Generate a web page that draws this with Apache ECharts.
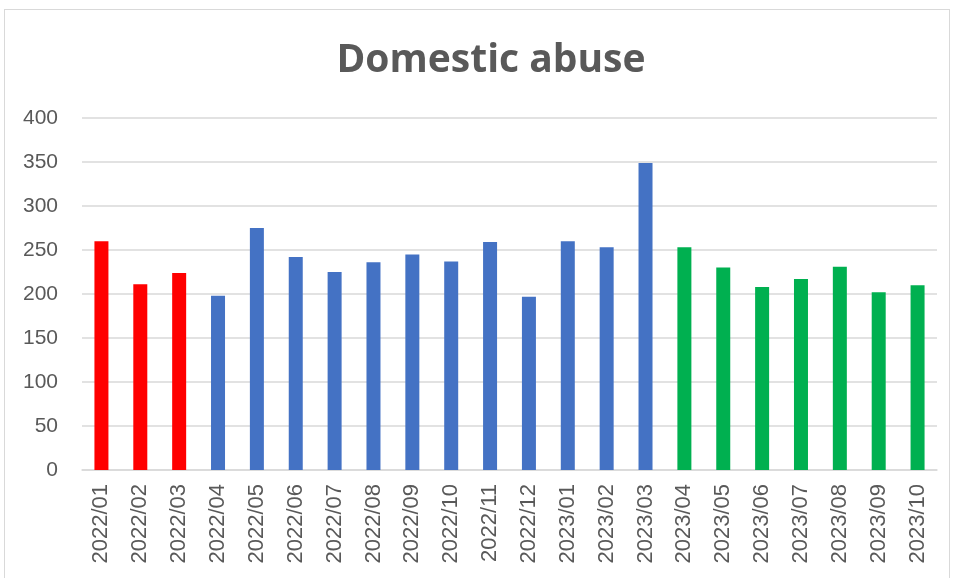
<!DOCTYPE html>
<html>
<head>
<meta charset="utf-8">
<script src="https://cdn.jsdelivr.net/npm/echarts@6/dist/echarts.min.js"></script>
<style>
html,body{margin:0;padding:0;background:#fff;}
#frame{position:absolute;left:4px;top:9px;width:946px;height:580px;border:1px solid #d9d9d9;box-sizing:border-box;}
#chart{position:absolute;left:0;top:0;width:957px;height:578px;}
</style>
</head>
<body>
<div id="frame"></div>
<div id="chart"></div>
<script>
const categories = ['2022/01','2022/02','2022/03','2022/04','2022/05','2022/06','2022/07','2022/08','2022/09','2022/10','2022/11','2022/12','2023/01','2023/02','2023/03','2023/04','2023/05','2023/06','2023/07','2023/08','2023/09','2023/10'];
const values = [260, 211, 224, 198, 275, 242, 225, 236, 245, 237, 259, 197, 260, 253, 349, 253, 230, 208, 217, 231, 202, 210];
const groups = ['red','red','red','blue','blue','blue','blue','blue','blue','blue','blue','blue','blue','blue','blue','green','green','green','green','green','green','green'];
const yTicks = [0, 50, 100, 150, 200, 250, 300, 350, 400];

const groupColors = {red: '#FF0000', blue: '#4472C4', green: '#00B050'};

const chart = echarts.init(document.getElementById('chart'));
chart.setOption({
  animation: false,
  title: {
    text: 'Domestic abuse',
    left: 486,
    textAlign: 'center',
    top: 36,
    textStyle: {fontFamily: 'Open Sans', fontWeight: 'bold', fontSize: 39, color: '#595959'}
  },
  grid: {left: 82, right: 20, top: 118, bottom: 108, containLabel: false},
  xAxis: {
    type: 'category',
    data: categories,
    axisLine: {lineStyle: {color: '#d9d9d9', width: 1.5}},
    axisTick: {show: false},
    axisLabel: {rotate: 90, color: '#595959', fontSize: 22, fontFamily: 'Liberation Sans', margin: 14, interval: 0}
  },
  yAxis: {
    type: 'value',
    min: yTicks[0],
    max: yTicks[yTicks.length - 1],
    interval: 50,
    axisLine: {show: false},
    axisTick: {show: false},
    splitLine: {lineStyle: {color: '#d9d9d9', width: 1.5}},
    axisLabel: {color: '#595959', fontSize: 21, fontFamily: 'Liberation Sans', margin: 24}
  },
  series: [{
    type: 'bar',
    barWidth: 14,
    data: values.map((v, i) => ({value: v, itemStyle: {color: groupColors[groups[i]]}}))
  }]
});
</script>
</body>
</html>
